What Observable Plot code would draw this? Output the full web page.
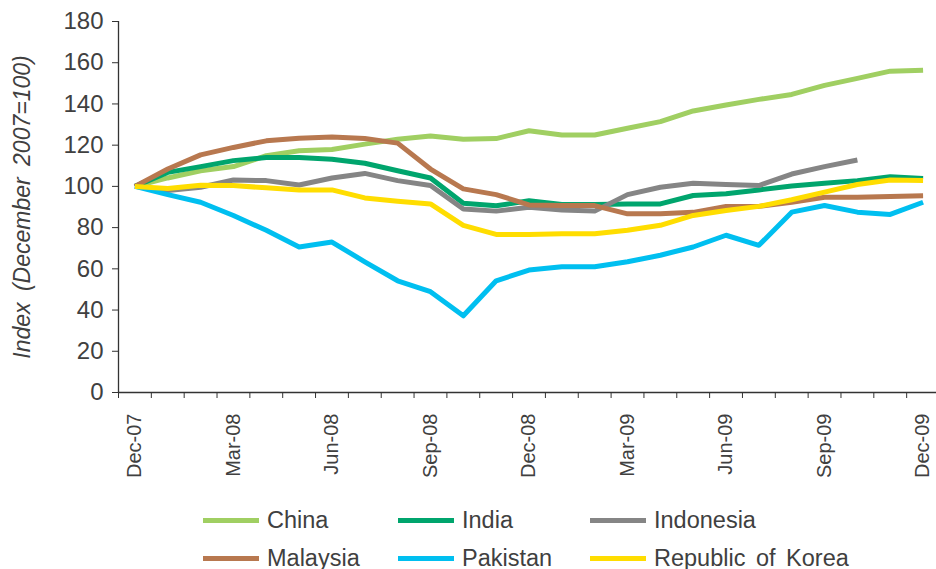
<!DOCTYPE html>
<html>
<head>
<meta charset="utf-8">
<script src="https://cdn.jsdelivr.net/npm/d3@7"></script>
<script src="https://cdn.jsdelivr.net/npm/@observablehq/plot@0.6"></script>
<style>
  html, body { margin: 0; padding: 0; background: #fff; }
  body { width: 936px; height: 569px; overflow: hidden; font-family: "Liberation Sans", Arial, sans-serif; }
  #legend { position: relative; width: 936px; height: 69px; }
  .item { position: absolute; display: flex; align-items: center; height: 30px; color: #404040; font-size: 23.5px; word-spacing: 4px; white-space: nowrap; }
  .sw { width: 56px; height: 5px; margin-right: 8px; }
</style>
</head>
<body>
<div id="chart"></div>
<div id="legend"></div>
<script>
const months = ["Dec-07","Jan-08","Feb-08","Mar-08","Apr-08","May-08","Jun-08","Jul-08","Aug-08","Sep-08","Oct-08","Nov-08","Dec-08","Jan-09","Feb-09","Mar-09","Apr-09","May-09","Jun-09","Jul-09","Aug-09","Sep-09","Oct-09","Nov-09","Dec-09"];
const labelMonths = ["Dec-07","Mar-08","Jun-08","Sep-08","Dec-08","Mar-09","Jun-09","Sep-09","Dec-09"];
const yTicks = [0,20,40,60,80,100,120,140,160,180];

const countries = ["China","India","Indonesia","Malaysia","Pakistan","Republic of Korea"];
const colors = ["#a0cf62","#00a56d","#858585","#b8784f","#00bff0","#ffdd00"];

const china     = [100,104.1,107.6,109.6,114.9,117.3,117.9,120.5,122.9,124.5,122.9,123.2,127.0,124.9,124.9,128.2,131.4,136.6,139.5,142.2,144.6,149.0,152.4,155.9,156.4];
const india     = [100,106.8,109.6,112.5,114.0,114.0,113.2,111.2,107.6,104.1,91.8,90.6,93.0,91.2,91.2,91.5,91.5,95.6,96.4,98.3,100.2,101.5,102.8,104.7,103.8];
const indonesia = [100,98.0,99.6,103.1,102.8,100.7,104.1,106.3,102.8,100.4,89.0,88.0,89.9,88.6,88.0,96.0,99.6,101.5,100.9,100.4,106.0,109.6,112.8,null,null];
const malaysia  = [100,108.4,115.3,118.9,122.1,123.4,124.0,123.2,121.0,108.4,98.8,96.0,91.0,90.7,90.7,86.7,86.7,87.4,90.3,90.3,92.3,94.7,94.7,95.1,95.4];
const pakistan  = [100,96.0,92.3,85.9,78.7,70.6,73.0,63.4,54.2,48.9,37.2,54.2,59.4,61.0,61.0,63.4,66.6,70.6,76.3,71.4,87.5,90.7,87.5,86.4,92.3];
const korea     = [100,99.0,100.5,100.4,99.3,98.3,98.3,94.4,92.8,91.5,81.1,76.7,76.7,77.0,77.0,78.7,81.1,85.9,88.3,90.3,93.5,97.2,100.9,103.1,102.8];

const seriesValues = [china, india, indonesia, malaysia, pakistan, korea];
const rows = [];
countries.forEach((c, k) => {
  seriesValues[k].forEach((v, i) => rows.push({country: c, i, value: v}));
});

const labelIdx = labelMonths.map(m => months.indexOf(m));
const boundaries = months.map((_, i) => i - 0.5).concat([months.length - 0.5]);
const textColor = "#404040";
const yTitle = "Index (December 2007=100)";

const chart = Plot.plot({
  width: 936,
  height: 500,
  marginLeft: 118,
  marginRight: 0,
  marginTop: 21,
  marginBottom: 108,
  style: {fontFamily: "'Liberation Sans', Arial, sans-serif", background: "#fff", overflow: "visible"},
  x: {type: "linear", domain: [-0.5, months.length - 0.5], range: [118, 939]},
  y: {domain: [0, 180], range: [392, 21]},
  color: {domain: countries, range: colors},
  marks: [
    Plot.lineY(rows, {x: "i", y: "value", stroke: "country", z: "country", strokeWidth: 5, strokeLinejoin: "round", strokeLinecap: "butt"}),
    Plot.ruleX([-0.5], {y1: 0, y2: 180, stroke: "#333", strokeWidth: 1.3}),
    Plot.ruleY([0], {x1: -0.5, x2: months.length - 0.5, stroke: "#333", strokeWidth: 1.3}),
    Plot.axisY({ticks: yTicks, tickSize: 6, tickPadding: 9, fontSize: 24, color: textColor, stroke: "#333", label: null}),
    Plot.axisX({ticks: boundaries, tickSize: 6, tickFormat: () => "", stroke: "#333", label: null}),
    Plot.axisX({ticks: labelIdx, tickSize: 0, tickPadding: 21, tickRotate: -90, fontSize: 20, color: textColor, tickFormat: i => months[i], label: null}),
    Plot.text([yTitle], {frameAnchor: "left", textAnchor: "middle", dx: -96, rotate: -90, fontSize: 23, fontStyle: "italic", fill: textColor, text: d => d})
  ]
});
d3.select(chart).selectAll("text").filter(function() { return this.textContent === yTitle; }).style("word-spacing", "5px");
document.getElementById("chart").appendChild(chart);

const legend = document.getElementById("legend");
const colX = [203, 398, 590];
const rowY = [5, 43];
countries.forEach((c, k) => {
  const item = document.createElement("div");
  item.className = "item";
  item.style.left = colX[k % 3] + "px";
  item.style.top = rowY[Math.floor(k / 3)] + "px";
  const sw = document.createElement("span");
  sw.className = "sw";
  sw.style.background = colors[k];
  const t = document.createElement("span");
  t.textContent = c;
  item.appendChild(sw);
  item.appendChild(t);
  legend.appendChild(item);
});
</script>
</body>
</html>
